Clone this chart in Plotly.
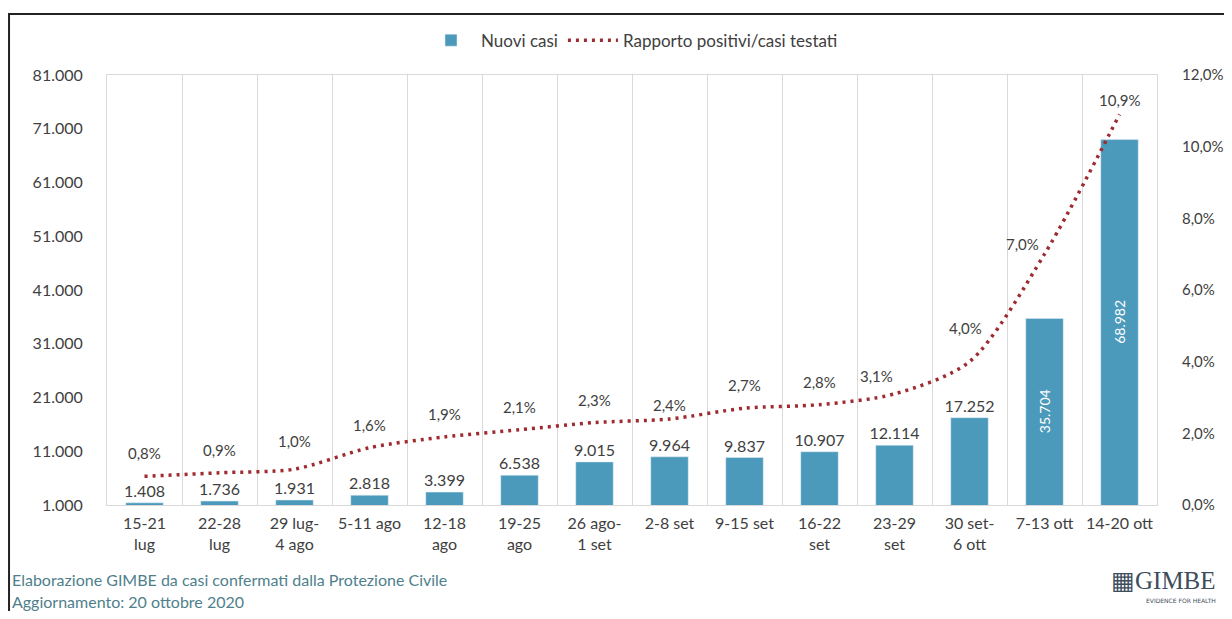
import plotly.graph_objects as go

categories = ["15-21<br>lug", "22-28<br>lug", "29 lug-<br>4 ago", "5-11 ago", "12-18<br>ago",
              "19-25<br>ago", "26 ago-<br>1 set", "2-8 set", "9-15 set", "16-22<br>set",
              "23-29<br>set", "30 set-<br>6 ott", "7-13 ott", "14-20 ott"]
nuovi_casi = [1408, 1736, 1931, 2818, 3399, 6538, 9015, 9964, 9837, 10907, 12114, 17252, 35704, 68982]
rapporto = [0.8, 0.9, 1.0, 1.6, 1.9, 2.1, 2.3, 2.4, 2.7, 2.8, 3.1, 4.0, 7.0, 10.9]
left_ticks = [1000, 11000, 21000, 31000, 41000, 51000, 61000, 71000, 81000]
right_ticks = [0, 2, 4, 6, 8, 10, 12]

def it_int(v):
    return f"{v:,}".replace(",", ".")

def it_pct(v):
    return f"{v:.1f}".replace(".", ",") + "%"

FONT = "Lato"
TXT = "#404040"
BAR = "#4b9abb"
LINE = "#9e2b30"
FOOT = "#4f7f8c"

x = list(range(len(categories)))
inside = [v > 30000 for v in nuovi_casi]

fig = go.Figure()
fig.add_trace(go.Bar(
    x=x, y=nuovi_casi, name="Nuovi casi", marker_color=BAR, width=0.5,
    text=["" if ins else it_int(v) for v, ins in zip(nuovi_casi, inside)],
    textposition="outside", textangle=0, cliponaxis=False, constraintext="none",
    textfont=dict(family=FONT, size=16, color=TXT),
))
fig.add_trace(go.Scatter(
    x=x, y=rapporto, yaxis="y2", name="Rapporto positivi/casi testati", mode="lines",
    line=dict(color=LINE, width=3.5, dash="3px,5px", shape="spline", smoothing=0.8),
))

annotations = []
for i, (v, ins) in enumerate(zip(nuovi_casi, inside)):
    if ins:
        annotations.append(dict(x=i, y=(v + left_ticks[0]) / 2, xref="x", yref="y", text=it_int(v),
                                showarrow=False, textangle=-90,
                                font=dict(family=FONT, size=14, color="white")))
shift_left = {10: -18, 11: -4, 12: -22}
shift_up = {2: 28, 7: 14, 10: 18, 11: 34, 12: 10, 13: 14}
for i, v in enumerate(rapporto):
    annotations.append(dict(x=i, y=v, xref="x", yref="y2", text=it_pct(v), showarrow=False,
                            xshift=shift_left.get(i, 0), yshift=shift_up.get(i, 23),
                            font=dict(family=FONT, size=15, color=TXT)))

annotations += [
    dict(x=-0.0924, y=-0.1744, xref="paper", yref="paper", xanchor="left", yanchor="middle",
         showarrow=False, text="Elaborazione GIMBE da casi confermati dalla Protezione Civile",
         font=dict(family=FONT, size=16, color=FOOT)),
    dict(x=-0.0924, y=-0.2233, xref="paper", yref="paper", xanchor="left", yanchor="middle",
         showarrow=False, text="Aggiornamento: 20 ottobre 2020",
         font=dict(family=FONT, size=16, color=FOOT)),
    dict(x=1.058, y=-0.175, xref="paper", yref="paper", xanchor="right", yanchor="middle",
         showarrow=False, text="▦GIMBE",
         font=dict(family="Liberation Serif", size=25, color="#3d4d5c")),
    dict(x=1.058, y=-0.222, xref="paper", yref="paper", xanchor="right", yanchor="middle",
         showarrow=False, text="EVIDENCE FOR HEALTH",
         font=dict(family="DejaVu Sans", size=6, color="#3d4d5c")),
]

# the page adds an 8px body margin, so the figure is offset accordingly
fig.update_layout(
    width=1224, height=603,
    margin=dict(l=99, r=75, t=67, b=106, autoexpand=False),
    paper_bgcolor="white", plot_bgcolor="white",
    bargap=0.5, showlegend=True,
    legend=dict(orientation="h", x=0.5, xanchor="center", y=1.08, yanchor="middle",
                font=dict(family=FONT, size=17, color=TXT), itemwidth=50, traceorder="normal"),
    xaxis=dict(range=[-0.5, len(categories) - 0.5], tickvals=x, ticktext=categories,
               tickfont=dict(family=FONT, size=16, color=TXT), showgrid=False, zeroline=False,
               showline=True, linecolor="#d9d9d9", linewidth=1, mirror=True, automargin=False,
               ticks="outside", ticklen=4, tickcolor="rgba(0,0,0,0)",
               minor=dict(tick0=0.5, dtick=1, showgrid=True, gridcolor="#d9d9d9", gridwidth=1)),
    yaxis=dict(range=[left_ticks[0], left_ticks[-1]], tickvals=left_ticks,
               ticktext=[it_int(v) for v in left_ticks], showgrid=False, zeroline=False,
               tickfont=dict(family=FONT, size=16, color=TXT), automargin=False,
               showline=True, linecolor="#d9d9d9", mirror=True,
               ticks="outside", ticklen=20, tickcolor="rgba(0,0,0,0)"),
    yaxis2=dict(range=[right_ticks[0], right_ticks[-1]], overlaying="y", side="right",
                tickvals=right_ticks, ticktext=[it_pct(v) for v in right_ticks], automargin=False,
                showgrid=False, zeroline=False, tickfont=dict(family=FONT, size=15, color=TXT),
                ticks="outside", ticklen=21, tickcolor="rgba(0,0,0,0)"),
    annotations=annotations,
    shapes=[dict(type="rect", xref="paper", yref="paper", x0=-0.0933, x1=1.09, y0=-0.35, y1=1.1419,
                 line=dict(color="#222", width=2), fillcolor="rgba(0,0,0,0)", layer="above")],
)
fig.write_html("out.html")
